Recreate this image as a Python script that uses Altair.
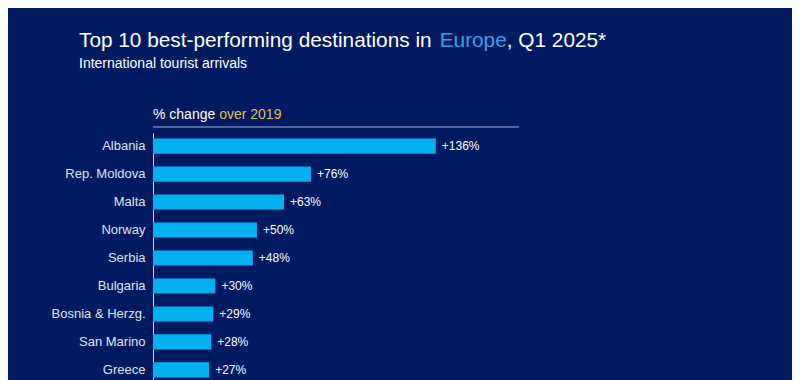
import altair as alt
import pandas as pd

countries = ["Albania", "Rep. Moldova", "Malta", "Norway", "Serbia",
             "Bulgaria", "Bosnia & Herzg.", "San Marino", "Greece"]
change = [136, 76, 63, 50, 48, 30, 29, 28, 27]

title_parts = ["Top 10 best-performing destinations in ", "Europe", ", Q1 2025*"]
subtitle = "International tourist arrivals"
header_parts = ["% change ", "over 2019"]

FONT = "Liberation Sans"
BG = "#001a62"
BAR = "#00b0f0"
W = 366
H = 247
OX, OY = 153, 133  # page position of plot origin

# Arial/Liberation widths (1/1000 em) for composing coloured text runs
CW = {' ': 278, 'T': 611, 'o': 556, 'p': 556, '1': 556, '0': 556, 'b': 556, 'e': 556, 's': 500,
      't': 278, '-': 333, 'r': 333, 'f': 278, 'm': 833, 'i': 222, 'n': 556, 'g': 556, 'd': 556,
      'a': 556, 'E': 667, 'u': 556, ',': 278, 'Q': 778, '2': 556, '5': 556, '*': 389, '%': 889,
      'c': 500, 'h': 556, 'v': 500, '9': 556}


def tw(s, size):
    return sum(CW.get(ch, 556) for ch in s) * size / 1000.0


df = pd.DataFrame({"country": countries, "change": change})

ysc = alt.Scale(domain=countries, range=[0, 250], paddingInner=0.46, paddingOuter=0.2)
xsc = alt.Scale(domain=[0, 176], nice=False, zero=True)

base = alt.Chart(df)
bars = base.mark_bar(color=BAR).encode(
    x=alt.X("change:Q", scale=xsc, axis=None),
    y=alt.Y("country:N", scale=ysc, axis=alt.Axis(
        title=None, ticks=False, domain=True, domainColor="#d5dcee", domainWidth=1,
        labelFont=FONT, labelFontSize=13, labelColor="#dfe4f0", labelPadding=8,
        labelAlign="right")),
)
values = base.transform_calculate(lbl="'+' + datum.change + '%'").mark_text(
    align="left", baseline="middle", dx=6, font=FONT, fontSize=12, color="#ffffff"
).encode(
    x=alt.X("change:Q", scale=xsc),
    y=alt.Y("country:N", scale=ysc),
    text="lbl:N",
)


def label(text, x, y, size, color):
    return alt.Chart(pd.DataFrame({"t": [text]})).mark_text(
        align="left", baseline="alphabetic", font=FONT, fontSize=size, color=color
    ).encode(x=alt.value(x - OX), y=alt.value(y - OY), text="t:N")


TS = 20.8
tx0 = 79
t1 = label(title_parts[0], tx0, 47, TS, "#ffffff")
t2 = label(title_parts[1], tx0 + tw(title_parts[0], TS), 47, TS, "#3aa3e4")
t3 = label(title_parts[2], tx0 + tw(title_parts[0] + title_parts[1], TS), 47, TS, "#ffffff")
sub = label(subtitle, 79, 68, 14, "#ffffff")
HS = 14
h1 = label(header_parts[0], 153, 119, HS, "#ffffff")
h2 = label(header_parts[1], 153 + tw(header_parts[0], HS), 119, HS, "#e2bf4e")

hline = alt.Chart(pd.DataFrame({"a": [0]})).mark_rule(color="#9aaedb", strokeWidth=1).encode(
    x=alt.value(0), x2=alt.value(W), y=alt.value(127 - OY)
)

chart = alt.layer(bars, values, hline, t1, t2, t3, sub, h1, h2).properties(
    width=W, height=H,
    background=BG,
    autosize=alt.AutoSizeParams(type="none"),
    padding={"left": 145, "top": 125, "right": 273, "bottom": 0},
).configure_view(stroke=None)

chart.save("out.html", embed_options={"renderer": "svg", "actions": False})
